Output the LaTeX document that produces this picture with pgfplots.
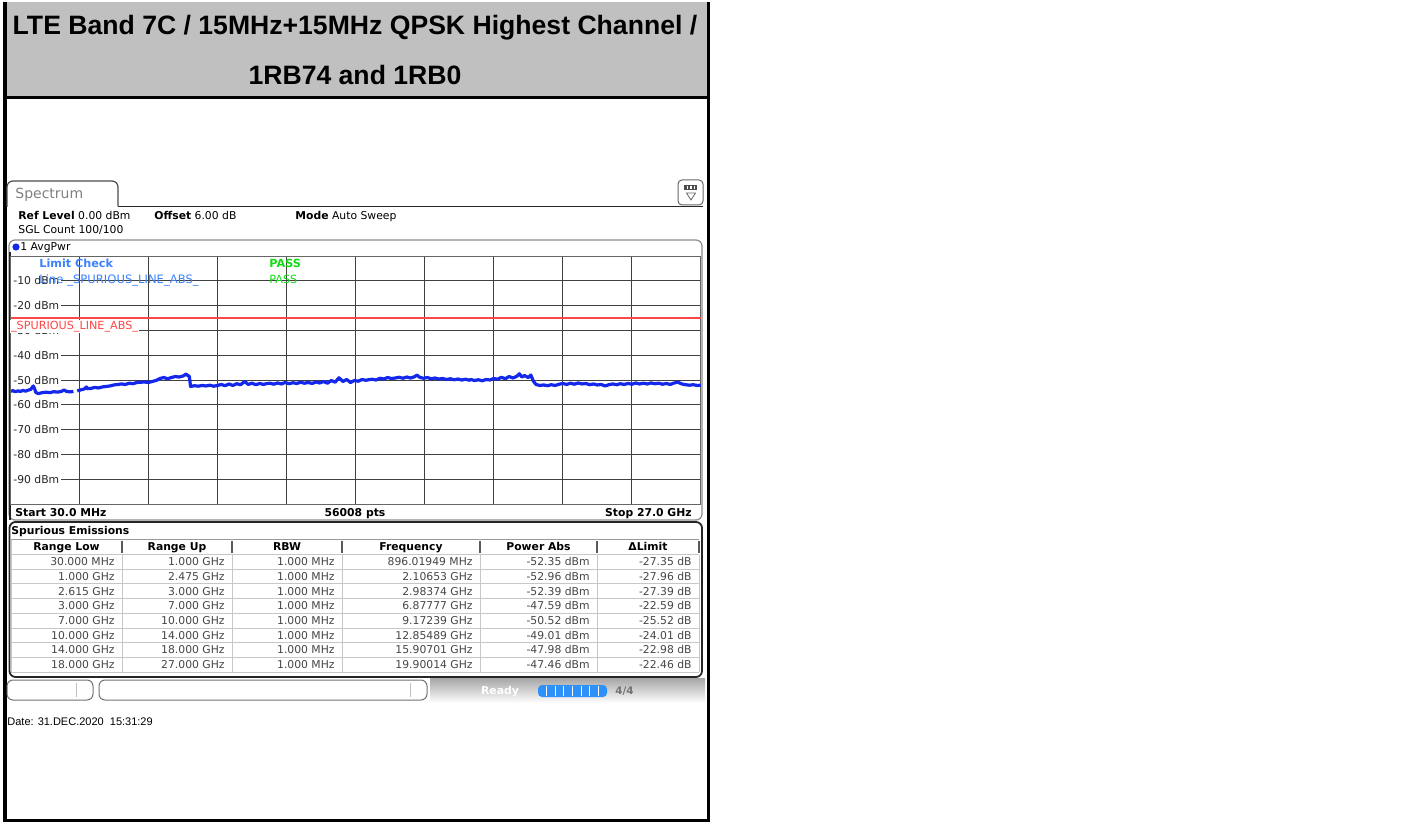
\documentclass[border=0pt]{standalone}
\usepackage{pgfplots}
\pgfplotsset{compat=1.18}
\usepackage{pgfplotstable}
\usepackage{fontspec}
\setmainfont{Liberation Sans}
\newfontfamily\rs{DejaVu Sans}

\definecolor{trace}{RGB}{20,40,235}
\definecolor{limred}{RGB}{255,70,70}
\definecolor{lcblue}{RGB}{60,130,255}
\definecolor{passgreen}{RGB}{20,220,20}
\definecolor{hdrgray}{RGB}{192,192,192}
\definecolor{pbar}{RGB}{45,145,250}
\definecolor{celltext}{RGB}{70,70,70}

\newcommand\fs[1]{\fontsize{#1}{#1}\selectfont}

\pgfplotstableread{
f p
0.03 -54.6
0.10 -54.3
0.20 -54.7
0.30 -54.4
0.40 -54.6
0.50 -54.2
0.60 -54.5
0.70 -54.1
0.80 -53.8
0.90 -52.4
0.95 -53.4
1.00 -55.0
1.10 -55.5
1.25 -55.1
1.40 -54.9
1.55 -55.1
1.70 -54.7
1.85 -54.9
2.00 -54.6
2.10 -54.0
2.20 -54.6
2.35 -54.8
2.47 -54.6
2.54 nan
2.62 -54.4
2.75 -54.0
2.90 -53.6
2.98 -52.8
3.00 -53.5
3.15 -53.4
3.30 -53.0
3.45 -53.2
3.60 -52.8
3.75 -52.6
3.90 -52.4
4.05 -52.0
4.20 -51.8
4.35 -51.6
4.50 -51.8
4.65 -51.3
4.80 -51.5
4.95 -51.0
5.10 -50.9
5.25 -50.8
5.40 -51.0
5.55 -50.6
5.70 -50.2
5.85 -49.4
6.00 -49.0
6.15 -49.5
6.30 -49.0
6.45 -48.6
6.60 -48.8
6.75 -48.4
6.88 -47.6
6.95 -48.3
7.00 -48.5
7.05 -52.6
7.20 -52.3
7.35 -52.5
7.50 -52.2
7.65 -52.4
7.80 -52.1
7.95 -52.5
8.10 -52.2
8.25 -51.8
8.40 -52.3
8.55 -51.6
8.70 -52.2
8.85 -51.5
9.00 -51.9
9.17 -50.6
9.30 -51.8
9.45 -51.3
9.60 -51.9
9.75 -51.4
9.90 -51.8
10.00 -51.5
10.15 -51.3
10.30 -51.7
10.45 -51.2
10.60 -51.6
10.75 -51.0
10.90 -51.5
11.05 -51.1
11.20 -51.4
11.35 -50.9
11.50 -51.3
11.65 -51.0
11.80 -51.4
11.95 -50.8
12.10 -51.2
12.25 -50.6
12.40 -51.3
12.55 -50.2
12.70 -50.9
12.85 -49.1
13.00 -50.6
13.15 -49.8
13.30 -51.0
13.45 -50.2
13.60 -50.5
13.75 -49.8
13.90 -50.1
14.00 -49.9
14.15 -49.7
14.30 -50.0
14.45 -49.3
14.60 -49.6
14.75 -49.0
14.90 -49.4
15.05 -49.2
15.20 -48.9
15.35 -49.3
15.50 -48.8
15.65 -49.2
15.80 -48.7
15.90 -48.0
16.00 -48.9
16.15 -49.3
16.30 -49.0
16.45 -49.5
16.60 -49.2
16.75 -49.6
16.90 -49.4
17.05 -49.8
17.20 -49.5
17.35 -49.9
17.50 -49.6
17.65 -50.0
17.80 -49.7
17.95 -50.1
18.00 -49.8
18.15 -50.2
18.30 -49.9
18.45 -50.3
18.60 -49.8
18.75 -50.0
18.90 -49.4
19.05 -49.7
19.20 -48.9
19.35 -49.5
19.50 -48.6
19.65 -49.2
19.80 -48.5
19.90 -47.5
20.00 -48.8
20.10 -48.2
20.25 -49.0
20.35 -48.0
20.45 -50.5
20.55 -51.8
20.70 -52.2
20.85 -52.0
21.00 -52.3
21.15 -51.9
21.30 -52.2
21.45 -51.7
21.60 -51.4
21.75 -51.8
21.90 -51.3
22.05 -51.7
22.20 -51.2
22.35 -51.6
22.50 -51.4
22.65 -51.9
22.80 -51.6
22.95 -52.0
23.10 -51.8
23.25 -52.4
23.40 -51.9
23.55 -51.6
23.70 -51.9
23.85 -51.5
24.00 -51.8
24.15 -51.4
24.30 -51.7
24.45 -51.2
24.60 -51.6
24.75 -51.3
24.90 -51.6
25.05 -51.2
25.20 -51.5
25.35 -51.3
25.50 -51.7
25.65 -51.4
25.80 -51.8
25.95 -51.2
26.10 -50.9
26.25 -51.6
26.40 -51.9
26.55 -52.1
26.70 -51.9
26.85 -52.2
27.00 -52.1
}\tracedata

\begin{document}
\begin{tikzpicture}[x=0.5pt,y=-0.5pt]
% page background
\fill[white] (0,0) rectangle (1415,822);
% header box
\fill[hdrgray] (5,0) rectangle (708,96);
\draw[line width=1.5pt] (5,96) -- (708,96);
\draw[line width=2pt] (5,0) -- (5,820);
\draw[line width=1.5pt] (708,0) -- (708,818.5) -- (5,818.5);
\node[anchor=base, font=\bfseries\fs{13.3}] at (355,33) {LTE Band 7C / 15MHz+15MHz QPSK Highest Channel /};
\node[anchor=base, font=\bfseries\fs{13.3}] at (355,83) {1RB74 and 1RB0};

% Spectrum tab
\draw[black!70, line width=0.6pt, rounded corners=3pt] (7,205) -- (7,179) -- (118,179) -- (118,204.5);
\draw[black!85, line width=0.8pt] (118,204.5) -- (703,204.5);
\node[anchor=base west, font=\rs\fs{7}, text=black!50, inner sep=0pt] at (15,197) {Spectrum};
% icon
\draw[black!60, line width=0.5pt, rounded corners=2pt, fill=white] (678,178) rectangle (703,203);
\fill[black!70] (684,183) rectangle (697,188);
\foreach \k in {687.5,691,694.5} {\fill[white] (\k-0.6,184) rectangle (\k+0.6,187);}
\draw[black!60, line width=0.4pt] (686.5,191) -- (695.5,191) -- (691,198) -- cycle;

% info text
\node[anchor=base west, font=\rs\fs{5.4}, inner sep=0pt] at (18,218) {\textbf{Ref Level} 0.00 dBm};
\node[anchor=base west, font=\rs\fs{5.4}, inner sep=0pt] at (154,218) {\textbf{Offset} 6.00 dB};
\node[anchor=base west, font=\rs\fs{5.4}, inner sep=0pt] at (295,218) {\textbf{Mode} Auto Sweep};
\node[anchor=base west, font=\rs\fs{5.4}, inner sep=0pt] at (18,232) {SGL Count 100/100};

% plot panel
\draw[black!45, line width=0.6pt, rounded corners=3pt] (9,238) rectangle (702,518);
\draw[black!85, line width=1pt] (9.5,250) -- (9.5,518);
\fill[trace] (16,245) circle[radius=1.8pt];
\node[anchor=base west, font=\rs\fs{5.4}, inner sep=0pt] at (20,249) {1 AvgPwr};

\coordinate (axsw) at (11,502);
\begin{axis}[
  at={(axsw)}, anchor=south west,
  width=345pt, height=124pt, scale only axis,
  xmin=0.03, xmax=27, ymin=-100, ymax=0,
  xtick={2.727,5.424,8.121,10.818,13.515,16.212,18.909,21.606,24.303},
  xticklabels={},
  ytick={-90,-80,-70,-60,-50,-40,-30,-20,-10},
  yticklabels={-90 dBm,-80 dBm,-70 dBm,-60 dBm,-50 dBm,-40 dBm,-30 dBm,-20 dBm,-10 dBm},
  yticklabel style={anchor=west, font=\rs\fs{5.4}, fill=white, inner sep=1pt, text=black!85},
  grid=major,
  major grid style={black!75, line width=0.5pt},
  major tick length=0pt,
  axis line style={black!60, line width=0.5pt},
  clip=true,
]
\addplot[limred, line width=0.6pt, forget plot] coordinates {(0.03,-25) (27,-25)};
\addplot[trace, line width=1.6pt, line join=round, unbounded coords=jump] table[x=f,y=p] {\tracedata};
\end{axis}

% limit line label and limit check text
\node[anchor=north west, font=\rs\fs{5.6}, text=limred, fill=white, inner sep=0.6pt] at (9.5,317.5) {\_SPURIOUS\_LINE\_ABS\_};
\node[anchor=base west, font=\rs\bfseries\fs{5.6}, text=lcblue, inner sep=0pt] at (39,265) {Limit Check};
\node[anchor=base west, font=\rs\fs{5.8}, text=lcblue, inner sep=0pt] at (39,282) {Line \_SPURIOUS\_LINE\_ABS\_};
\node[anchor=base west, font=\rs\bfseries\fs{5.6}, text=passgreen, inner sep=0pt] at (269,265) {PASS};
\node[anchor=base west, font=\rs\fs{5.6}, text=passgreen, inner sep=0pt] at (269,282) {PASS};

% bottom bar of plot
\node[anchor=base west, font=\rs\bfseries\fs{5.4}, inner sep=0pt] at (15,514) {Start 30.0 MHz};
\node[anchor=base, font=\rs\bfseries\fs{5.4}, inner sep=0pt] at (355,514) {56008 pts};
\node[anchor=base east, font=\rs\bfseries\fs{5.4}, inner sep=0pt] at (692,514) {Stop 27.0 GHz};

% spurious emissions panel
\draw[black!85, line width=0.9pt, rounded corners=3pt] (9.5,520) rectangle (702,675);
\node[anchor=base west, font=\rs\bfseries\fs{5.4}, inner sep=0pt] at (11,532) {Spurious Emissions};
% grid of table
\foreach \i in {0,...,8} {\draw[black!22, line width=0.5pt] (11,552.5+14.7*\i) -- (699,552.5+14.7*\i);}
\foreach \x in {122,232,342,480,597} {\draw[black!22, line width=0.5pt] (\x,552.5) -- (\x,670.1);}
\draw[black!22, line width=0.5pt] (11,537) -- (11,670.1);
\draw[black!22, line width=0.5pt] (699,552.5) -- (699,670.1);
\draw[black!40, line width=0.5pt] (11,537) -- (699,537);
\foreach \x in {122,232,342,480,597,699} {\draw[black!65, line width=0.8pt] (\x,539) -- (\x,551);}
% headers
\foreach \c/\t in {66.5/Range Low,177/Range Up,287/RBW,411/Frequency,538.5/Power Abs,648/ΔLimit} {
  \node[anchor=base, font=\rs\bfseries\fs{5.4}, inner sep=0pt] at (\c,548.5) {\t};
}
\foreach \a/\b/\c/\d/\e/\f [count=\i from 0] in {
  30.000 MHz/1.000 GHz/1.000 MHz/896.01949 MHz/-52.35 dBm/-27.35 dB,
  1.000 GHz/2.475 GHz/1.000 MHz/2.10653 GHz/-52.96 dBm/-27.96 dB,
  2.615 GHz/3.000 GHz/1.000 MHz/2.98374 GHz/-52.39 dBm/-27.39 dB,
  3.000 GHz/7.000 GHz/1.000 MHz/6.87777 GHz/-47.59 dBm/-22.59 dB,
  7.000 GHz/10.000 GHz/1.000 MHz/9.17239 GHz/-50.52 dBm/-25.52 dB,
  10.000 GHz/14.000 GHz/1.000 MHz/12.85489 GHz/-49.01 dBm/-24.01 dB,
  14.000 GHz/18.000 GHz/1.000 MHz/15.90701 GHz/-47.98 dBm/-22.98 dB,
  18.000 GHz/27.000 GHz/1.000 MHz/19.90014 GHz/-47.46 dBm/-22.46 dB} {
  \pgfmathsetmacro\yy{563.6+14.7*\i}
  \node[anchor=base east, font=\rs\fs{5.4}, text=celltext, inner sep=0pt] at (115,\yy) {\a};
  \node[anchor=base east, font=\rs\fs{5.4}, text=celltext, inner sep=0pt] at (225,\yy) {\b};
  \node[anchor=base east, font=\rs\fs{5.4}, text=celltext, inner sep=0pt] at (335,\yy) {\c};
  \node[anchor=base east, font=\rs\fs{5.4}, text=celltext, inner sep=0pt] at (473,\yy) {\d};
  \node[anchor=base east, font=\rs\fs{5.4}, text=celltext, inner sep=0pt] at (590,\yy) {\e};
  \node[anchor=base east, font=\rs\fs{5.4}, text=celltext, inner sep=0pt] at (692,\yy) {\f};
}

% status bar
\shade[top color=black!35, bottom color=white] (430,676) rectangle (705,701);
\draw[black!55, line width=0.5pt, rounded corners=3pt] (7,678) rectangle (93,698);
\draw[black!25, line width=0.5pt] (76,681) -- (76,695);
\draw[black!55, line width=0.5pt, rounded corners=3pt] (99,678) rectangle (427,698);
\draw[black!25, line width=0.5pt] (410,681) -- (410,695);
\node[anchor=base, font=\rs\bfseries\fs{5.4}, text=white, inner sep=0pt] at (500,692) {Ready};
\fill[pbar, rounded corners=2pt] (538,683) rectangle (607,695);
\foreach \k in {1,...,7} {\draw[white, line width=0.5pt] (538+8.6*\k,684) -- (538+8.6*\k,694);}
\node[anchor=base west, font=\rs\bfseries\fs{5.2}, text=black!55, inner sep=0pt] at (615,692) {4/4};

% date
\node[anchor=base west, font=\fs{5.5}, inner sep=0pt] at (7,723) {Date: 31.DEC.2020\ \ 15:31:29};
\end{tikzpicture}
\end{document}
